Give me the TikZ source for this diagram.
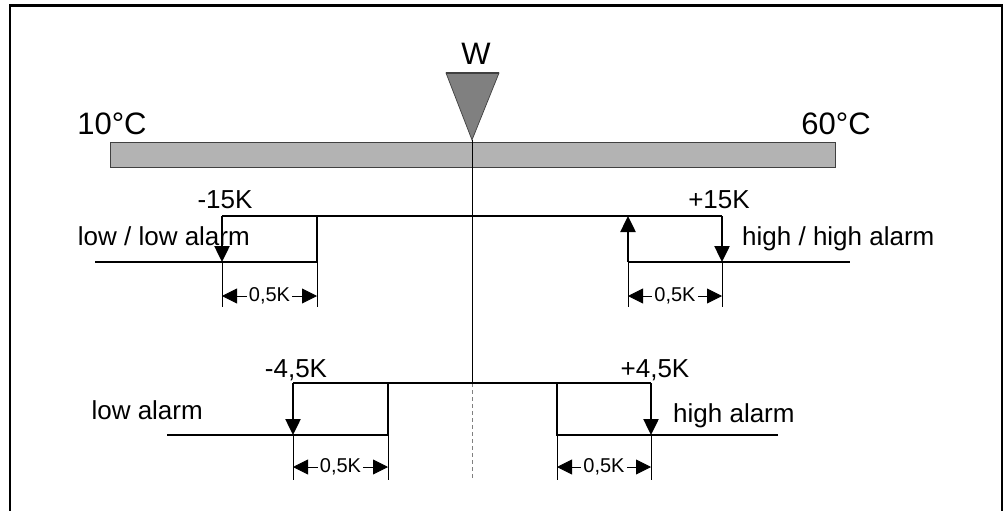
\documentclass[tikz,border=0pt]{standalone}
\usepackage{fontspec}
\setmainfont{Liberation Sans}
\usetikzlibrary{arrows.meta}
\definecolor{barfill}{HTML}{B3B3B3}
\definecolor{trifill}{HTML}{808080}
\definecolor{edge}{HTML}{404040}
\begin{document}
\begin{tikzpicture}[x=1pt,y=-1pt,
  hyst/.style={line width=2.5pt},
  hystarrow/.style={hyst,-{Triangle[length=16pt,width=15pt]}},
  thin line/.style={line width=0.9pt},
  dimarrow/.style={line width=0.9pt,{Triangle[length=15pt,width=15pt]}-{Triangle[length=15pt,width=15pt]}},
  dimtext/.style={fill=white,inner sep=2pt,font=\fontsize{20}{22}\selectfont},
  bigtext/.style={inner sep=0pt,font=\fontsize{31}{36}\selectfont},
  midtext/.style={inner sep=0pt,font=\fontsize{26}{30}\selectfont}
]
\useasboundingbox (0,0) rectangle (1006,511);
% frame
\draw[line width=2.5pt] (10,511) -- (10,5.5) -- (1002,5.5) -- (1002,511);

% scale bar
\node[draw=edge,line width=0.8pt,fill=barfill,minimum width=725pt,minimum height=25pt,inner sep=0pt,anchor=north west] (bar) at (110,142) {};
\node[bigtext,anchor=base] (t10) at (112,134) {10°C};
\node[bigtext,anchor=base] (t60) at (836,134) {60°C};

% setpoint triangle
\coordinate (triL) at (446,73);
\coordinate (triR) at (499,73);
\coordinate (apex) at (472,140);
\filldraw[fill=trifill,draw=edge,line width=0.7pt] (triL) -- (triR) -- (apex) -- cycle;
\draw[draw=edge,line width=1.6pt] (triL) -- (triR);
\node[bigtext,anchor=base] (W) at (476,65) {W};

% centre line
\coordinate (cMid) at (472,383);
\coordinate (cEnd) at (472,480);
\draw[line width=0.9pt] (apex) -- (cMid);
\draw[line width=0.8pt,draw=gray,dash pattern=on 4pt off 3pt] (cMid) -- (cEnd);

% upper hysteresis
\coordinate (uA) at (95,262);
\coordinate (uB) at (222,262);
\coordinate (uC) at (317,262);
\coordinate (uD) at (222,216);
\coordinate (uE) at (317,216);
\coordinate (uF) at (722,216);
\coordinate (uG) at (722,262);
\coordinate (uH) at (628,262);
\coordinate (uI) at (628,216);
\coordinate (uJ) at (850,262);
\draw[hyst] (uA) -- (uC) -- (uE);
\draw[hyst] (uD) -- (uF);
\draw[hystarrow] (uD) -- (uB);
\draw[hystarrow] (uF) -- (uG);
\draw[hystarrow] (uH) -- (uI);
\draw[hyst] (uH) -- (uJ);
\node[midtext,anchor=base] (m15) at (225,208) {-15K};
\node[midtext,anchor=base] (p15) at (719,208) {+15K};
\node[midtext,anchor=base east] (lowlow) at (250,245) {low / low alarm};
\node[midtext,anchor=base west] (highhigh) at (742,245) {high / high alarm};

% upper dimensions
\coordinate (ud1) at (222,307);
\coordinate (ud2) at (317,307);
\coordinate (ud3) at (628,307);
\coordinate (ud4) at (722,307);
\draw[thin line] (uB) -- (ud1);
\draw[thin line] (uC) -- (ud2);
\draw[thin line] (uH) -- (ud3);
\draw[thin line] (uG) -- (ud4);
\coordinate (ua1) at (222,296);
\coordinate (ua2) at (317,296);
\coordinate (ua3) at (628,296);
\coordinate (ua4) at (722,296);
\draw[dimarrow] (ua1) -- (ua2) node[midway,dimtext] (ulk) {0,5K};
\draw[dimarrow] (ua3) -- (ua4) node[midway,dimtext] (urk) {0,5K};

% lower hysteresis
\coordinate (lA) at (167,435);
\coordinate (lB) at (293,435);
\coordinate (lC) at (388,435);
\coordinate (lD) at (293,383);
\coordinate (lE) at (388,383);
\coordinate (lF) at (651,383);
\coordinate (lG) at (651,435);
\coordinate (lH) at (557,435);
\coordinate (lI) at (557,383);
\coordinate (lJ) at (778,435);
\draw[hyst] (lA) -- (lC) -- (lE);
\draw[hyst] (lD) -- (lF);
\draw[hystarrow] (lD) -- (lB);
\draw[hystarrow] (lF) -- (lG);
\draw[hyst] (lJ) -- (lH) -- (lI);
\node[midtext,anchor=base] (m45) at (296,377) {-4,5K};
\node[midtext,anchor=base] (p45) at (655,377) {+4,5K};
\node[midtext,anchor=base east] (lowal) at (203,419) {low alarm};
\node[midtext,anchor=base west] (highal) at (673,422) {high alarm};

% lower dimensions
\coordinate (ld1) at (293,480);
\coordinate (ld2) at (388,480);
\coordinate (ld3) at (557,480);
\coordinate (ld4) at (651,480);
\draw[thin line] (lB) -- (ld1);
\draw[thin line] (lC) -- (ld2);
\draw[thin line] (lH) -- (ld3);
\draw[thin line] (lG) -- (ld4);
\coordinate (la1) at (293,467);
\coordinate (la2) at (388,467);
\coordinate (la3) at (557,467);
\coordinate (la4) at (651,467);
\draw[dimarrow] (la1) -- (la2) node[midway,dimtext] (llk) {0,5K};
\draw[dimarrow] (la3) -- (la4) node[midway,dimtext] (lrk) {0,5K};
\end{tikzpicture}
\end{document}
